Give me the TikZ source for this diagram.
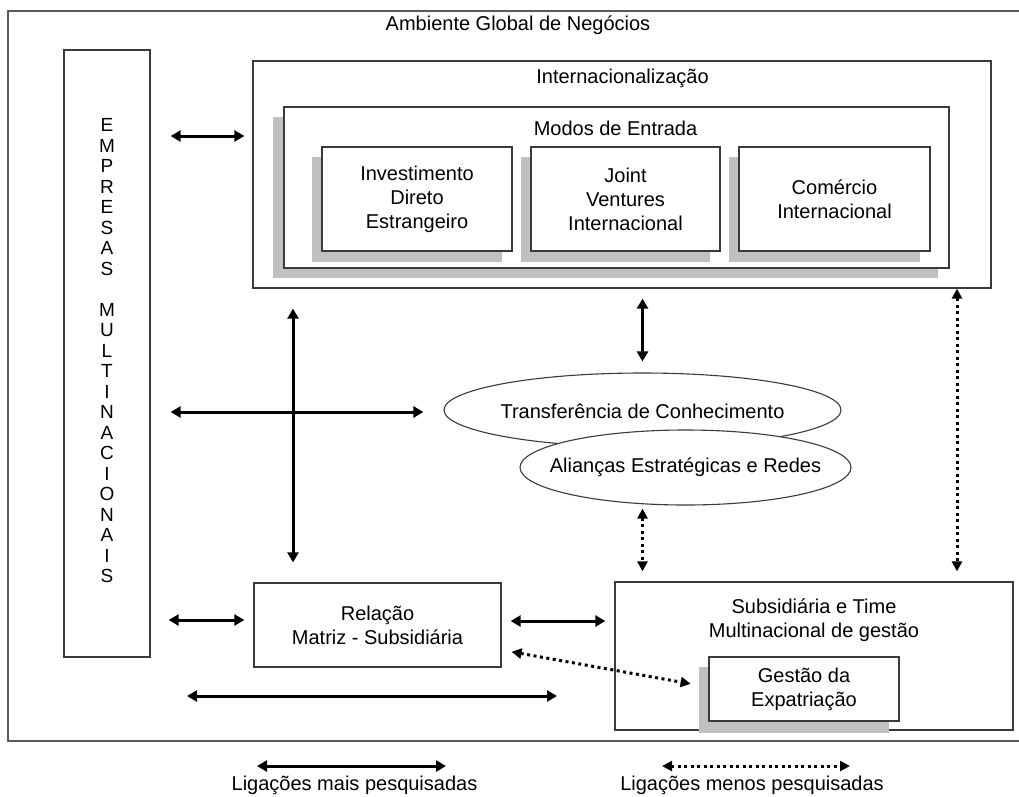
\documentclass[tikz,border=0pt]{standalone}
\usepackage{fontspec}
\setmainfont{Liberation Sans}
\usetikzlibrary{arrows.meta,shapes.geometric}

\definecolor{boxline}{HTML}{3A3A3A}
\definecolor{framegray}{HTML}{5A5A5A}
\definecolor{shadowgray}{HTML}{C0C0C0}

\begin{document}
\begin{tikzpicture}[x=1pt,y=-1pt,
  box/.style={draw=boxline,line width=1.3pt,fill=white,inner sep=0pt},
  shade/.style={fill=shadowgray,draw=none},
  lbl/.style={font=\fontsize{20}{24}\selectfont,align=center,inner sep=0pt},
  oval/.style={ellipse,draw=boxline,line width=1.1pt,fill=white,inner sep=0pt},
  strong/.style={line width=3pt,{Triangle[length=10pt,width=11pt]}-{Triangle[length=10pt,width=11pt]}},
  weak/.style={line width=3pt,dash pattern=on 3pt off 3.5pt,{Triangle[length=10pt,width=10pt]}-{Triangle[length=10pt,width=10pt]}}
]
\useasboundingbox (0,0) rectangle (1019,796);
\fill[white] (0,0) rectangle (1019,796);

% outer frame (open on the right)
\draw[framegray,line width=2pt] (1019,11) -- (8,11) -- (8,741) -- (1019,741);
\node[lbl] (title) at (518,25) {Ambiente Global de Negócios};

% multinational companies column
\node[box,minimum width=86pt,minimum height=607pt] (emp) at (107,353.5) {};
\node[align=center,inner sep=0pt,font=\fontsize{19}{20.5}\selectfont] (empt) at (107,351)
  {E\\M\\P\\R\\E\\S\\A\\S\\[20.5pt]M\\U\\L\\T\\I\\N\\A\\C\\I\\O\\N\\A\\I\\S};

% internationalisation block
\node[box,minimum width=738pt,minimum height=227pt] (intl) at (622,174.5) {};
\node[lbl] (intlt) at (622.5,78) {Internacionalização};
\fill[shade] (273,117) rectangle (938,278);
\node[box,minimum width=665pt,minimum height=161pt] (modos) at (616.5,187.5) {};
\node[lbl] (modost) at (615.5,128) {Modos de Entrada};

\fill[shade] (312,157) rectangle (502,262);
\node[box,lbl,minimum width=190pt,minimum height=104pt] (ide) at (417,199)
  {Investimento\\Direto\\Estrangeiro};
\fill[shade] (521,157) rectangle (710,262);
\node[box,lbl,minimum width=189pt,minimum height=104pt] (jv) at (625.5,199)
  {Joint\\Ventures\\Internacional};
\fill[shade] (729,157) rectangle (920,262);
\node[box,lbl,minimum width=191pt,minimum height=104pt] (ci) at (834.5,199)
  {Comércio\\Internacional};

% knowledge transfer and alliances
\node[oval,minimum width=397pt,minimum height=74pt] (tk) at (642.5,410) {};
\node[lbl] (tkt) at (642.5,411) {Transferência de Conhecimento};
\node[oval,minimum width=331pt,minimum height=75pt] (al) at (685.5,467.5) {};
\node[lbl] (alt) at (685.5,467) {Alianças Estratégicas e Redes};

% parent-subsidiary relation
\node[box,lbl,minimum width=247pt,minimum height=84pt] (rel) at (377.5,625)
  {Relação\\Matriz - Subsidiária};

% subsidiary and management team
\node[box,minimum width=398pt,minimum height=148pt] (sub) at (814,656) {};
\node[lbl] (subt) at (814,620) {Subsidiária e Time\\Multinacional de gestão};
\fill[shade] (699,667) rectangle (889,733);
\node[box,lbl,minimum width=190pt,minimum height=64pt] (gest) at (804,689)
  {Gestão da\\Expatriação};

% links
\draw[strong,shorten <=20pt,shorten >=8pt] (emp.east |- 0,136) -- (intl.west |- 0,136);
\draw[strong,shorten <=20pt,shorten >=20pt] (intl.south -| 293,0) -- (rel.north -| 293,0);
\draw[strong,shorten <=20pt,shorten >=20pt] (emp.east |- 0,412) -- (tk.west |- 0,412);
\draw[strong,shorten <=10pt,shorten >=11pt] (intl.south -| tk.north) -- (tk.north);
\draw[weak,shorten <=3pt,shorten >=10pt] (tk.north |- al.south) -- (tk.north |- sub.north);
\draw[weak,shorten >=10pt] (intl.south -| 957,0) -- (sub.north -| 957,0);
\draw[strong,shorten <=18pt,shorten >=9pt] (emp.east |- 0,620) -- (rel.west |- 0,620);
\draw[strong,shorten <=9pt,shorten >=9pt] (rel.east |- 0,621) -- (sub.west |- 0,621);
\draw[weak,shorten <=10pt,shorten >=18pt] (rel.east |- 0,650) -- (gest.west |- 0,687);
\coordinate (lowL) at (187,696);
\coordinate (lowR) at (557,696);
\draw[strong] (lowL) -- (lowR);

% legend
\coordinate (k1a) at (257,766);
\coordinate (k1b) at (446,766);
\draw[strong] (k1a) -- (k1b);
\node[lbl] (k1t) at (354.5,785) {Ligações mais pesquisadas};
\coordinate (k2a) at (662,766);
\coordinate (k2b) at (850,766);
\draw[weak] (k2a) -- (k2b);
\node[lbl] (k2t) at (752,785) {Ligações menos pesquisadas};
\end{tikzpicture}
\end{document}
